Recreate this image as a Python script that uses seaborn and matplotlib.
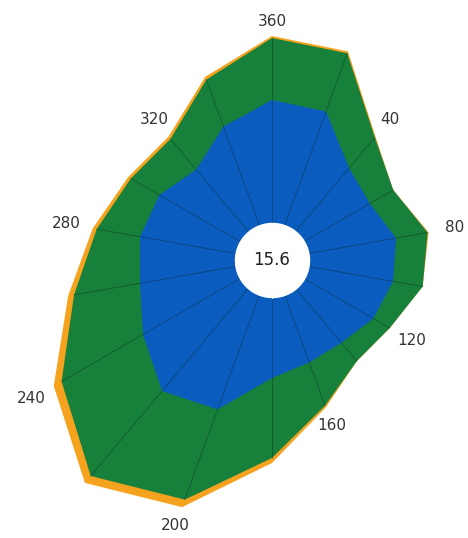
import numpy as np
import pandas as pd
import seaborn as sns
import matplotlib
matplotlib.use("Agg")
import matplotlib.pyplot as plt

# directions (degrees, clockwise from north), one sector every 20 degrees
directions = list(range(0, 360, 20))
calm = 37
calm_label = "15.6"

# stacked band sizes per direction (inner -> outer)
blue = [123, 121, 83, 76, 89, 86, 80, 71, 72, 81, 122, 134, 112, 97, 97, 93, 81, 105]
green = [62, 62, 40, 27, 32, 30, 19, 24, 46, 80, 96, 111, 94, 67, 44, 33, 40, 50]
orange = [2, 2, 1, 0, 1, 0, 0, 0, 2, 5, 8, 9, 9, 6, 4, 3, 3, 3]

tick_dirs = [0, 40, 80, 120, 160, 200, 240, 280, 320]
tick_labels = ["360", "40", "80", "120", "160", "200", "240", "280", "320"]

sns.set_theme(style="white")
colors = {"blue": "#0b5cbf", "green": "#17803a", "orange": "#f5a21e"}

df = pd.DataFrame({"dir": directions, "blue": blue, "green": green, "orange": orange})
df["r_blue"] = calm + df["blue"]
df["r_green"] = df["r_blue"] + df["green"]
df["r_orange"] = df["r_green"] + df["orange"]

fig = plt.figure(figsize=(4.68, 5.38), dpi=100)
R = 300
ax = fig.add_axes([(272 - R) / 468, (538 - 260 - R) / 538, 2 * R / 468, 2 * R / 538],
                  projection="polar")
ax.set_theta_zero_location("N")
ax.set_theta_direction(-1)
ax.set_ylim(0, R)

theta = np.deg2rad(np.append(df["dir"].values, df["dir"].iloc[0]))


def closed(col):
    return np.append(df[col].values, df[col].iloc[0])


ax.fill(theta, closed("r_orange"), color=colors["orange"], lw=0, zorder=1)
ax.fill(theta, closed("r_green"), color=colors["green"], lw=0, zorder=1.1)
ax.fill(theta, closed("r_blue"), color=colors["blue"], lw=0, zorder=1.2)

# spokes
for d, rg in zip(df["dir"], df["r_green"]):
    t = np.deg2rad(d)
    ax.plot([t, t], [calm, rg], color="#0a2a22", lw=0.6, alpha=0.45, zorder=2)

# calm circle
circ = np.linspace(0, 2 * np.pi, 200)
ax.fill_between(circ, 0, calm, color="white", zorder=3)
ax.text(0, 0, calm_label, ha="center", va="center", fontsize=12, color="#222222", zorder=4)

# direction labels just outside the rose
r_out = dict(zip(df["dir"], df["r_orange"]))
for d, lab in zip(tick_dirs, tick_labels):
    t = np.deg2rad(d)
    r = r_out[d] + 15 + 12 * abs(np.sin(t))
    ax.text(t, r, lab, ha="center", va="center", fontsize=11, color="#333333",
            clip_on=False, zorder=4)

ax.grid(False)
ax.set_xticks([])
ax.set_yticks([])
ax.spines["polar"].set_visible(False)
ax.set_facecolor("white")

fig.savefig("out.png", dpi=100)
